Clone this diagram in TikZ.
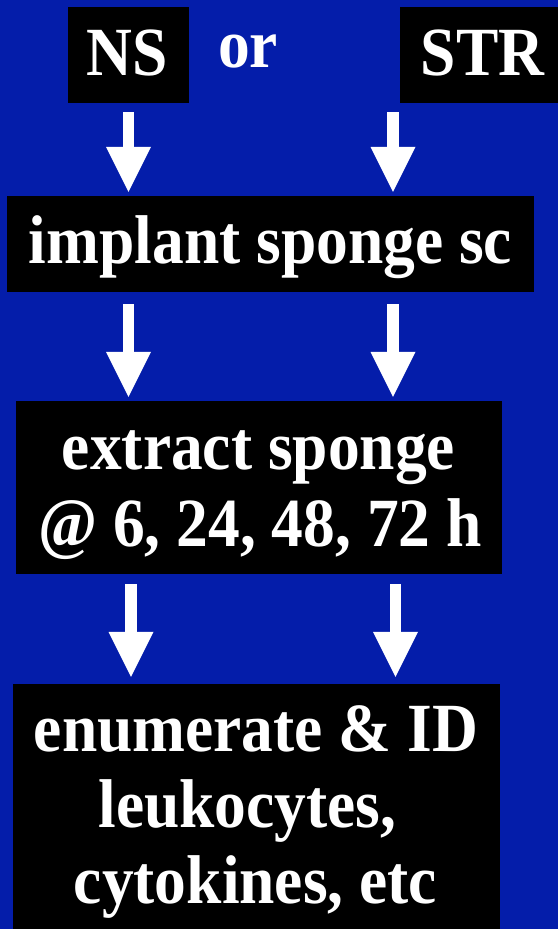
\documentclass[tikz,border=0pt]{standalone}
\usepackage{fontspec}
\setmainfont{Liberation Serif}[FakeStretch=0.92]
\usetikzlibrary{arrows.meta}
\definecolor{bg}{RGB}{4,29,170}
\begin{document}
\begin{tikzpicture}[x=1pt,y=-1pt,
  box/.style={fill=black, draw=none, inner sep=0pt, rectangle},
  txt/.style={text=white, inner sep=0pt, anchor=base, font=\bfseries\fontsize{69}{77}\selectfont},
  arr/.style={draw=white, line width=11.5pt,
    -{Triangle[width=45pt,length=45pt,line width=0pt]}}]
\useasboundingbox[fill=bg] (0,0) rectangle (558,929);
% boxes
\node[box, minimum width=121pt, minimum height=96pt] (ns) at (128.5,55) {};
\node[box, minimum width=158pt, minimum height=96pt] (str) at (479,55) {};
\node[box, minimum width=527pt, minimum height=96pt] (implant) at (270.5,244) {};
\node[box, minimum width=486pt, minimum height=173pt] (extract) at (259,487.5) {};
\node[box, minimum width=487pt, minimum height=245pt] (enum) at (256.5,806.5) {};
% texts
\node[txt] (tns) at (127,75) {NS};
\node[txt] (tor) at (248,67) {or};
\node[txt] (tstr) at (482.5,75) {STR};
\node[txt] (timp) at (270.5,263) {implant sponge sc};
\node[txt] (tex1) at (258.5,469) {extract sponge};
\node[txt] (tex2) at (260,546) {@ 6, 24, 48, 72 h};
\node[txt] (ten1) at (256,751) {enumerate \& ID};
\node[txt] (ten2) at (256,827) {leukocytes,\rule{0.25em}{0pt}};
\node[txt] (ten3) at (255.5,903) {cytokines, etc};
% arrow columns
\coordinate (c1L) at (128.5,0);
\coordinate (c1R) at (393,0);
\coordinate (c3L) at (131,0);
\coordinate (c3R) at (395.5,0);
\draw[arr, shorten <=9pt, shorten >=4pt] (ns.south -| c1L) -- (implant.north -| c1L);
\draw[arr, shorten <=9pt, shorten >=4pt] (str.south -| c1R) -- (implant.north -| c1R);
\draw[arr, shorten <=12pt, shorten >=4pt] (implant.south -| c1L) -- (extract.north -| c1L);
\draw[arr, shorten <=12pt, shorten >=4pt] (implant.south -| c1R) -- (extract.north -| c1R);
\draw[arr, shorten <=10pt, shorten >=7pt] (extract.south -| c3L) -- (enum.north -| c3L);
\draw[arr, shorten <=10pt, shorten >=7pt] (extract.south -| c3R) -- (enum.north -| c3R);
\end{tikzpicture}
\end{document}
